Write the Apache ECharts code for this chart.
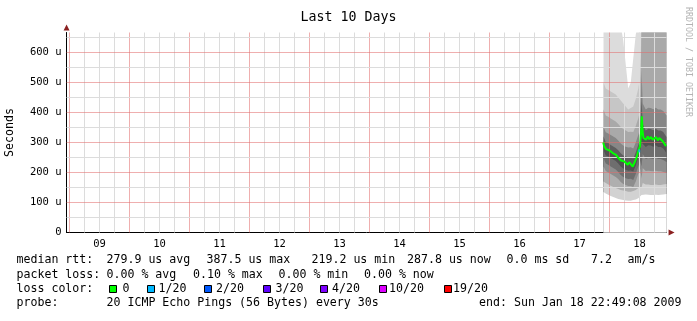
<!DOCTYPE html>
<html><head><meta charset="utf-8">
<script src="https://cdn.jsdelivr.net/npm/echarts@6/dist/echarts.min.js"></script>
<style>html,body{margin:0;padding:0;background:#fff}#c{width:697px;height:321px}</style>
</head><body><div id="c"></div>
<script>
// ---------- data ----------
const chartTitle = 'Last 10 Days';
const yAxisName = 'Seconds';
const watermark = 'RRDTOOL / TOBI OETIKER';
// x in hours since Jan 09 00:00; window ends Sun Jan 18 22:49:08
const xStart = -1.1811;
const xEnd = 238.8189;
const dayLabels = ['09','10','11','12','13','14','15','16','17','18'];
const dayNoonHours = [12,36,60,84,108,132,156,180,204,228];
const yTickValues = [0,100,200,300,400,500,600];

// smoke (ping distribution) per step, values in microseconds
const smokeHours = [213.6,214.5,215.5,216.5,217.5,218.5,219.5,220.5,221.5,222.5,223.5,224.5,225.5,226.5,227.5,228.3,228.8,229.3,230.5,231.5,232.5,233.5,234.5,235.5,236.5,237.5,238.8];
const pingMin = [135,130,126,122,118,115,112,110,108,107,106,106,108,110,114,118,125,128,127,126,125,125,126,125,126,127,128];
const ping10  = [170,165,160,156,152,148,145,142,140,138,136,136,138,142,148,152,150,165,160,160,158,158,160,158,158,160,162];
const ping20  = [220,205,200,195,190,185,178,168,162,158,155,155,152,170,195,212,180,215,205,206,205,204,206,204,204,202,198];
const ping30  = [248,230,226,220,215,210,202,192,185,181,178,179,175,195,220,238,220,262,245,248,247,245,248,245,245,242,235];
const ping40  = [276,257,254,248,243,238,230,220,213,209,206,207,203,223,248,266,300,300,285,291,290,286,291,285,285,280,265];
const ping50  = [298,279,276,270,265,260,252,242,235,231,228,229,225,245,270,290,380,330,310,316,315,311,316,310,310,305,288];
const ping60  = [320,301,298,292,287,282,274,264,257,253,250,251,247,267,292,314,450,362,340,346,345,341,346,340,340,335,318];
const ping70  = [352,334,330,325,320,315,307,297,290,286,283,284,280,300,325,350,540,430,410,416,415,411,416,410,410,405,390];
const ping80  = [410,390,386,380,375,370,362,352,345,340,335,336,335,355,380,410,700,700,700,700,700,700,700,700,700,700,700];
const ping90  = [500,480,475,470,465,460,450,440,430,420,410,415,420,445,480,520,700,700,700,700,700,700,700,700,700,700,700];
const pingMax = [700,700,700,700,700,700,700,690,640,560,480,500,580,660,700,700,700,700,700,700,700,700,700,700,700,700,700];

// median rtt line
const medianHours = [213.5,213.9,214.6,215.3,215.9,216.6,217.3,217.9,218.6,219.3,219.9,220.6,221.3,221.9,222.6,223.3,223.9,224.6,225.3,225.9,226.3,226.9,227.3,227.7,228.2,228.6,228.9,229.3,229.6,229.9,230.6,231.3,231.9,232.6,233.3,233.9,234.6,235.3,235.9,236.6,237.3,237.9,238.6];
const medianRtt   = [300,287,278,281,274,270,265,267,259,251,254,240,234,237,231,226,234,229,220,231,237,251,265,276,287,331,387.5,331,315,315,309,320,311,318,309,315,318,307,315,309,304,307,288];
const lossOneOfTwenty = [[227.9, 272]];

const statsRow1 = ['median rtt:','279.9 us avg','387.5 us max','219.2 us min','287.8 us now','0.0 ms sd','7.2','am/s'];
const statsRow2 = ['packet loss:','0.00 % avg','0.10 % max','0.00 % min','0.00 % now'];
const lossLabel = 'loss color:';
const lossNames = ['0','1/20','2/20','3/20','4/20','10/20','19/20'];
const probeRow = ['probe:','20 ICMP Echo Pings (56 Bytes) every 30s'];
const endText = 'end: Sun Jan 18 22:49:08 2009';

// ---------- layout / style ----------
const lossColors = ['#00ff00','#00b8ff','#0059ff','#5e00ff','#7e00ff','#dd00ff','#ff0000'];
const row1X = [16.5,106.5,206.5,311.5,407,506.5,591,627.5];
const row2X = [16.5,106.5,193,278.5,364];
const lossSquareX = [109.5,147.5,204.5,263.5,320.5,379.5,444.5];
const lossTextX = [122.5,158.5,216,275.5,332,389,453];
const rowY = [260,274.5,288.5,303];
// layers painted from the top quantile down; each fill is the band just below that quantile
const layers = [pingMax,ping90,ping80,ping70,ping60,ping50,ping40,ping30,ping20,ping10,pingMin];
const layerColors = ['#dcdcdc','#c6c6c6','#a9a9a9','#868686','#5e5e5e','#525252','#6e6e6e','#8e8e8e','#afafaf','#d2d2d2','#ffffff'];
const MONO = '"DejaVu Sans Mono", monospace';
const minorColor = '#dcdcdc';
const majorColor = 'rgba(225,110,110,0.55)';
const arrowColor = '#8b2020';

const series = [];
layers.forEach((q, k) => {
  series.push({
    type:'line', data: q.map((v, i) => [smokeHours[i], v]), showSymbol:false, silent:true,
    lineStyle:{width:0}, areaStyle:{color: layerColors[k], opacity:1, origin:'start'},
    z:2, animation:false
  });
});

// grid lines drawn over the smoke like rrdtool does
const gridLines = [];
for (let h = 0; h <= xEnd; h += 6) {
  gridLines.push({xAxis:h, lineStyle:{color: h % 24 === 0 ? majorColor : minorColor, width:1, type:'solid'}});
}
for (let v = 50; v < 667; v += 50) {
  gridLines.push({yAxis:v, lineStyle:{color: v % 100 === 0 ? majorColor : minorColor, width:1, type:'solid'}});
}
series.push({
  type:'line', data:[], z:3, silent:true, animation:false,
  markLine:{silent:true, symbol:['none','none'], label:{show:false}, animation:false, data:gridLines}
});
series.push({
  type:'line', data: medianHours.map((h,i)=>[h, medianRtt[i]]), showSymbol:false, silent:true,
  lineStyle:{color:'#00ff00', width:2}, z:5, animation:false
});
series.push({
  type:'scatter', data: lossOneOfTwenty, symbol:'rect', symbolSize:[2,3],
  itemStyle:{color:'#00b8ff'}, z:6, animation:false, silent:true
});

const textStyle = (t, x, y, extra) => ({
  type:'text', x, y, silent:true,
  style:Object.assign({text:t, font:'11.6px ' + MONO, fill:'#000', verticalAlign:'middle', textAlign:'left'}, extra||{})
});
const graphics = [];
statsRow1.forEach((t,i)=>graphics.push(textStyle(t,row1X[i],rowY[0])));
statsRow2.forEach((t,i)=>graphics.push(textStyle(t,row2X[i],rowY[1])));
graphics.push(textStyle(lossLabel,16.5,rowY[2]));
lossNames.forEach((t,i)=>{
  graphics.push({type:'rect', silent:true, shape:{x:lossSquareX[i], y:285.5, width:7, height:7},
    style:{fill:lossColors[i], stroke:'#000', lineWidth:1}});
  graphics.push(textStyle(t,lossTextX[i],rowY[2]));
});
graphics.push(textStyle(probeRow[0],16.5,rowY[3]));
graphics.push(textStyle(probeRow[1],106.5,rowY[3]));
graphics.push(textStyle(endText,681.5,rowY[3],{textAlign:'right'}));
graphics.push({type:'text', x:688, y:62, rotation:-Math.PI/2, silent:true,
  style:{text:watermark, font:'8.3px ' + MONO, fill:'#b4b4b4', textAlign:'center', verticalAlign:'middle'}});

const chart = echarts.init(document.getElementById('c'), null, {renderer:'canvas'});
chart.setOption({
  animation:false,
  backgroundColor:'#fff',
  title:{text:chartTitle, left:'center', top:6,
    textStyle:{fontFamily:MONO, fontSize:13.3, fontWeight:'normal', color:'#000'}},
  grid:{left:66.55, top:32.5, width:600, height:200, containLabel:false, outerBoundsMode:'none'},
  xAxis:[{
    type:'value', min:xStart, max:xEnd,
    axisLine:{show:true, onZero:false, lineStyle:{color:'#000', width:1}},
    axisTick:{show:false}, splitLine:{show:false},
    axisLabel:{show:true, customValues:dayNoonHours, margin:6.5,
      formatter:(v)=>dayLabels[dayNoonHours.indexOf(Math.round(v))] || '',
      fontFamily:MONO, fontSize:10.5, color:'#000'}
  },{
    type:'value', min:xStart, max:xEnd, position:'bottom',
    axisLine:{show:true, onZero:false, symbol:['none','triangle'], symbolSize:[6,6], symbolOffset:[0,5],
      lineStyle:{color:arrowColor, width:0}},
    axisTick:{show:false}, axisLabel:{show:false}, splitLine:{show:false}
  }],
  yAxis:[{
    type:'value', min:0, max:666.67, interval:100,
    name:yAxisName, nameLocation:'middle', nameRotate:90, nameGap:51,
    nameTextStyle:{fontFamily:MONO, fontSize:11.6, color:'#000'},
    axisLine:{show:true, onZero:false, lineStyle:{color:'#000', width:1}},
    axisTick:{show:false}, splitLine:{show:false},
    axisLabel:{margin:5, fontFamily:MONO, fontSize:10.5, color:'#000',
      customValues:yTickValues,
      formatter:(v)=> v === 0 ? '0' : v + ' u'}
  },{
    type:'value', min:0, max:666.67, position:'left',
    axisLine:{show:true, onZero:false, symbol:['none','triangle'], symbolSize:[6,6], symbolOffset:[0,5],
      lineStyle:{color:arrowColor, width:0}},
    axisTick:{show:false}, axisLabel:{show:false}, splitLine:{show:false}
  }],
  series,
  graphic:graphics
});
</script>
</body></html>
